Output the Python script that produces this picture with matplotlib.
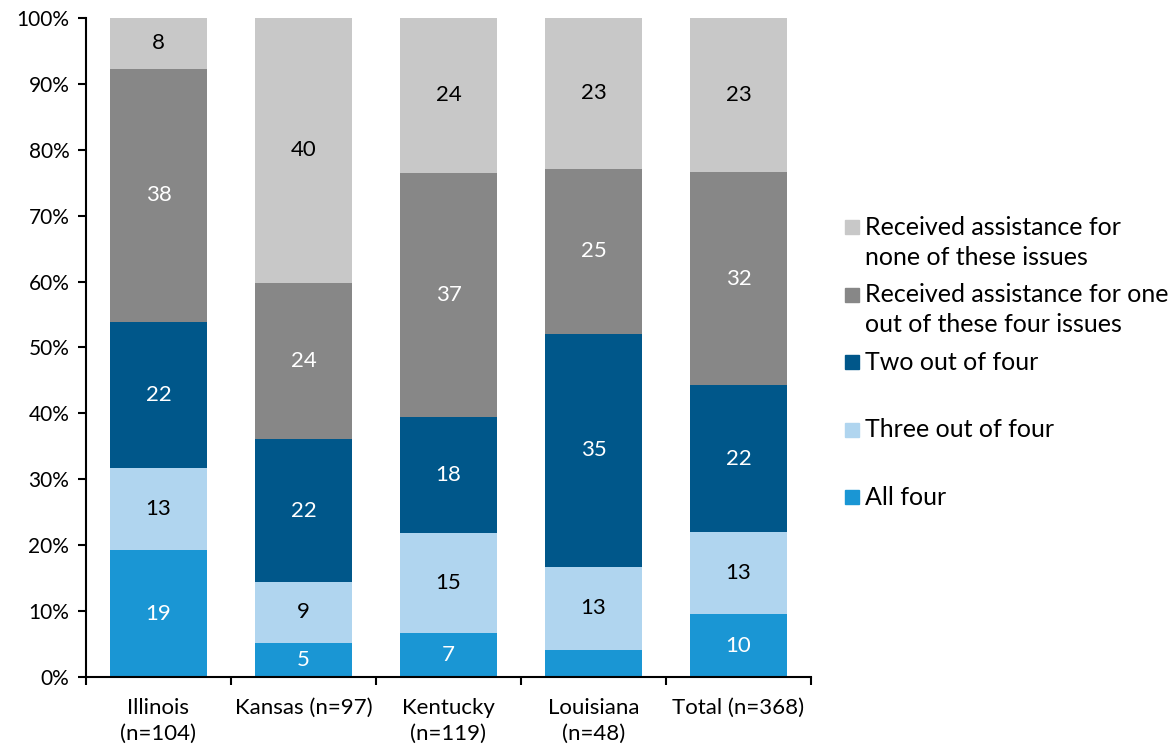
import numpy as np
import matplotlib.pyplot as plt
from matplotlib.patches import Rectangle

plt.rcParams['font.family'] = ['Lato', 'DejaVu Sans']

# respondents per site, by how many of the four issues they got help with
sites = ["Illinois\n(n=104)", "Kansas (n=97)", "Kentucky\n(n=119)",
         "Louisiana\n(n=48)", "Total (n=368)"]
n_resp = np.array([104, 97, 119, 48, 368])
all_four = np.array([20, 5, 8, 2, 35])
three_of_four = np.array([13, 9, 18, 6, 46])
two_of_four = np.array([23, 21, 21, 17, 82])
one_of_four = np.array([40, 23, 44, 12, 119])
none_of_four = np.array([8, 39, 28, 11, 86])

series = [
    ("All four", all_four, "#1a96d4", "white"),
    ("Three out of four", three_of_four, "#b0d5ef", "black"),
    ("Two out of four", two_of_four, "#00578a", "white"),
    ("Received assistance for one\nout of these four issues", one_of_four, "#878787", "white"),
    ("Received assistance for\nnone of these issues", none_of_four, "#c8c8c8", "black"),
]

fig = plt.figure(figsize=(11.76, 7.47), dpi=100)
ax = fig.add_axes([0.0731, 0.0937, 0.6165, 0.8823])

x = np.arange(len(sites))
bottom = np.zeros(len(sites))
for name, counts, color, txt in series:
    pct = counts / n_resp * 100
    ax.bar(x, pct, 0.67, bottom=bottom, color=color, linewidth=0)
    for xi, b, p in zip(x, bottom, pct):
        if p < 5:
            continue
        ax.text(xi, b + p / 2, "%d" % np.floor(p + 0.5), ha="center",
                va="center", fontsize=16, color=txt)
    bottom += pct

ax.set_xlim(-0.5, 4.5)
ax.set_ylim(0, 100)
ax.set_yticks(np.arange(0, 101, 10))
ax.set_yticklabels(["%d%%" % v for v in range(0, 101, 10)], fontsize=15)
ax.set_xticks(x)
ax.set_xticklabels(sites, fontsize=16, linespacing=1.4)
ax.set_xticks(np.arange(-0.5, 5, 1), minor=True)
ax.tick_params(axis="x", which="major", length=0, pad=15)
ax.tick_params(axis="x", which="minor", length=6, width=1.5, direction="out")
ax.tick_params(axis="y", length=6, width=1.5, direction="out", pad=6)
for s in ["top", "right"]:
    ax.spines[s].set_visible(False)
for s in ["left", "bottom"]:
    ax.spines[s].set_linewidth(1.5)

# legend, top entry first, markers aligned with the first line of text
W, H = 1176, 747
y_px = 227
for name, counts, color, txt in series[::-1]:
    fig.patches.append(Rectangle((845 / W, 1 - (y_px + 7) / H), 14 / W, 14 / H,
                                 transform=fig.transFigure, color=color))
    for i, line in enumerate(name.split("\n")):
        fig.text(865 / W, 1 - (y_px + 8 + 30 * i) / H, line, fontsize=18,
                 va="baseline", ha="left")
    y_px += 67.5

fig.savefig("out.png", dpi=100)
